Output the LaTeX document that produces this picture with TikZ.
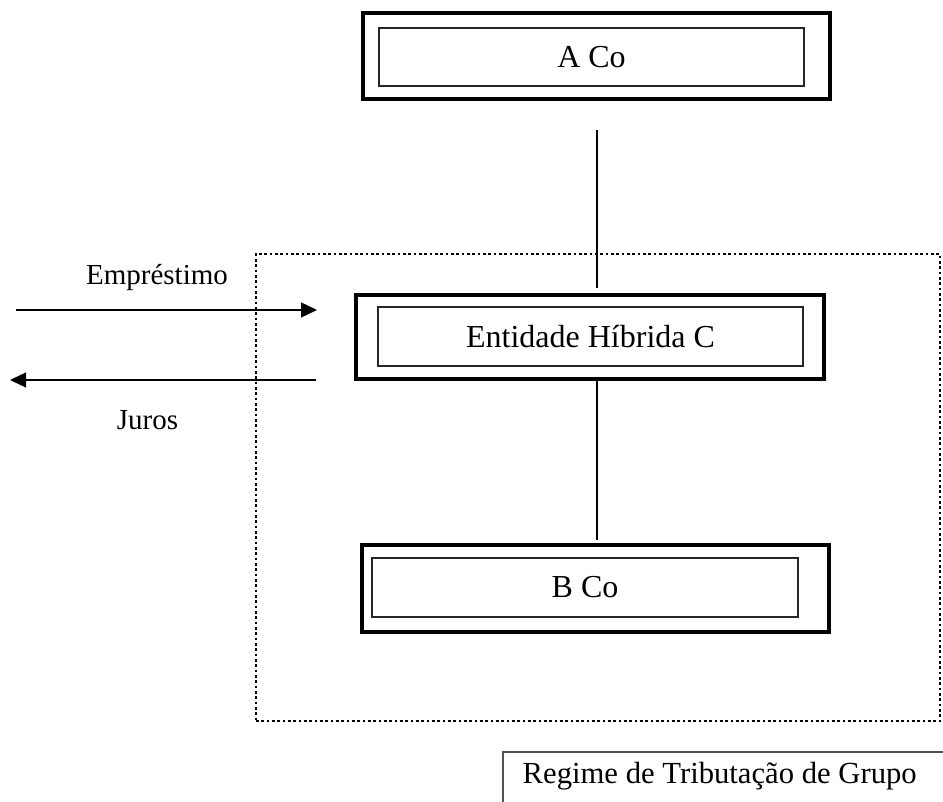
\documentclass[tikz,border=0pt]{standalone}
\usepackage{fontspec}
\setmainfont{Liberation Serif}
\usetikzlibrary{arrows.meta}
\definecolor{lblgray}{HTML}{505050}
\tikzset{
  outerbox/.style={draw=black, line width=2.4pt, rectangle, inner sep=0pt},
  innerbox/.style={draw=black!85, line width=1.1pt, rectangle, inner sep=0pt, font=\fontsize{24}{28}\selectfont},
  sidelabel/.style={inner sep=0pt, font=\fontsize{21.75}{26}\selectfont},
  connector/.style={draw=black, line width=0.8pt},
  flow/.style={draw=black, line width=1.0pt, -{Triangle[length=12pt,width=11.25pt]}},
  groupbox/.style={draw=black, line width=2.1pt, dash pattern=on 2.1pt off 1.9pt},
}
\begin{document}
\begin{tikzpicture}[x=0.75pt, y=-0.75pt]
\useasboundingbox (0,0) rectangle (943,802);
% group (dotted) boundary
\node[groupbox, minimum width=513pt, minimum height=350.25pt, inner sep=0pt] (grp) at (598,487.5) {};
% A Co
\node[outerbox, minimum width=350.25pt, minimum height=64.5pt] (aout) at (596.5,56) {};
\node[innerbox, minimum width=318.75pt, minimum height=43.5pt] (ain) at (591.5,57) {A Co};
% Entidade Hibrida C
\node[outerbox, minimum width=351pt, minimum height=63pt] (cout) at (590,337) {};
\node[innerbox, minimum width=318.75pt, minimum height=44.25pt] (cin) at (590.5,336.5) {Entidade Híbrida C};
% B Co
\node[outerbox, minimum width=350.25pt, minimum height=65.25pt] (bout) at (595.5,588.5) {};
\node[innerbox, minimum width=319.5pt, minimum height=44.25pt] (bin) at (585,587.5) {B Co};
% connectors
\coordinate (l1a) at (597,130);
\coordinate (l1b) at (597,288);
\coordinate (l2a) at (597,380);
\coordinate (l2b) at (597,540);
\draw[connector] (l1a) -- (l1b);
\draw[connector] (l2a) -- (l2b);
% loan / interest arrows
\coordinate (emA) at (16,310);
\coordinate (emB) at (317,310);
\coordinate (juA) at (316,380);
\coordinate (juB) at (10,380);
\draw[flow] (emA) -- (emB);
\draw[flow] (juA) -- (juB);
\node[sidelabel, anchor=base] (emp) at (157,285) {Empréstimo};
\node[sidelabel, anchor=base] (jur) at (147.5,430) {Juros};
% group regime label
\coordinate (rgTR) at (943,752);
\coordinate (rgTL) at (503,752);
\coordinate (rgBL) at (503,802);
\draw[draw=lblgray, line width=1.2pt] (rgTR) -- (rgTL) -- (rgBL);
\node[inner sep=0pt, anchor=base east, font=\fontsize{23}{27}\selectfont] (rg) at (917,783) {Regime de Tributação de Grupo};
\end{tikzpicture}
\end{document}
